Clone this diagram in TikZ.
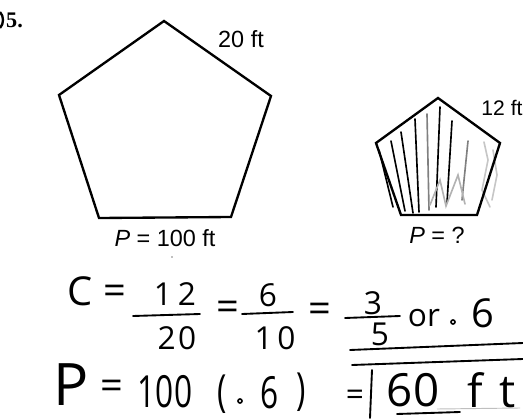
\documentclass[tikz,border=0pt]{standalone}
\usepackage{fontspec}
\usepackage{graphicx}
\setmainfont{Liberation Sans}
\newfontfamily\numfont{Liberation Serif}
\newfontfamily\handfont{Open Sans}
\usetikzlibrary{positioning}
\newcommand{\tall}[1]{\scalebox{1}[1.4]{#1}}
\tikzset{
  pent/.style={draw,line width=2pt,line join=miter},
  lbl/.style={font=\fontsize{20}{22}\selectfont,inner sep=0pt},
  hand/.style={font=\handfont\fontsize{34}{36}\selectfont,inner sep=0pt},
  handnum/.style={font=\handfont\fontsize{27}{28}\selectfont,inner sep=0pt},
  handbig/.style={font=\handfont\fontsize{39}{40}\selectfont,inner sep=0pt},
  hline/.style={line width=1.6pt,line cap=round},
  hatch/.style={line width=1.4pt,line cap=round},
}

\begin{document}
\begin{tikzpicture}[x=0.03cm,y=-0.03cm]
  \useasboundingbox (0,0) rectangle (523,419);
  \clip (0,0) rectangle (523,419);
  %% problem number
  \draw[line width=2pt] (0,12) .. controls (4,16) and (4,24) .. (0,28);
  \node[font=\numfont\bfseries\fontsize{19}{21}\selectfont,inner sep=0pt,anchor=west] (num) at (6,20) {5.};
  \fill[gray] (172,257) circle (0.8);

  %% large pentagon
  \draw[pent] (164,21) -- (271,96) -- (231,217) -- (99,218) -- (59,95) -- cycle;
  \node[lbl] (side20) at (241,39) {20 ft};
  \node[lbl] (perim)  at (165,238) {\textit{P} = 100 ft};

  %% small pentagon, shaded by hand
  \draw[hatch]             (379,150) -- (393,207);
  \draw[hatch]             (391,141) -- (405,211);
  \draw[hatch]             (401,132) -- (413,213);
  \draw[hatch]             (415,119) -- (419,212);
  \draw[hatch,gray]        (427,114) -- (429,210);
  \draw[hatch]             (440,107) -- (436,207);
  \draw[hatch]             (452,121) -- (447,203);
  \draw[hatch,gray]        (468,141) -- (462,200);
  \draw[hatch,gray!60]     (430,205) -- (440,180) -- (446,206) -- (458,175) -- (465,204);
  \draw[hatch,gray!45]     (484,142) -- (488,160) -- (482,190) -- (490,207);
  \draw[hatch,gray!45]     (493,150) -- (497,175) -- (492,200);
  \draw[pent] (438,98) -- (500,143) -- (477,215) -- (401,215) -- (376,143) -- cycle;
  \node[lbl,font=\fontsize{18}{20}\selectfont] (side12) at (502,108) {12 ft};
  \node[lbl] (perimq) at (437,235) {\textit{P} = ?};

  %% worked ratio
  \node[hand]    (cc)   at (80,291)  {C};
  \node[hand]    (eq1)  at (115,295) {=};
  \node[handnum] (n12)  at (175,294) {1\hspace{5pt}2};
  \draw[hline] (133,316) -- (200,314);
  \node[handnum] (d20)  at (177,338) {2\hspace{2pt}0};
  \node[hand]    (eq2)  at (228,311) {=};
  \node[handnum] (n6)   at (268,295) {6};
  \draw[hline] (242,314) -- (293,312);
  \node[handnum] (d10)  at (275,338) {1\hspace{4pt}0};
  \node[hand]    (eq3)  at (320,313) {=};
  \node[handnum] (n3)   at (373,303) {3};
  \draw[hline] (345,318) -- (400,316);
  \node[handnum] (d5)   at (380,334) {5};
  \node[handnum] (orw)  at (424,318) {or};
  \draw[line width=1.4pt] (453,322) circle (2);
  \node[hand]    (six1) at (483,313) {6};
  \draw[hline] (350,350) -- (523,343);
  \draw[hline] (352,365) -- (523,359);

  %% worked perimeter
  \node[font=\handfont\fontsize{50}{52}\selectfont,inner sep=0pt] (pp) at (71,385) {P};
  \node[hand]    (eq4)  at (112,390) {=};
  \node[handnum] (n100) at (165,392) {\tall{100}};
  \node[handnum] (lpar) at (222,394) {\tall{(}};
  \draw[line width=1.4pt] (240,401) circle (2);
  \node[handnum] (six2) at (270,393) {\tall{6}};
  \node[handnum] (rpar) at (301,392) {\tall{)}};
  \node[handnum] (eq5)  at (355,398) {=};
  \draw[hline] (372,370) -- (370,418);
  \node[handbig] (n60)  at (413,390) {60};
  \node[handbig] (ftw)  at (492,390) {f\hspace{14pt}t};
  \draw[hline] (397,414) -- (460,412);
  \draw[line width=0.8pt,gray!50] (437,409) -- (520,408);
\end{tikzpicture}
\end{document}
